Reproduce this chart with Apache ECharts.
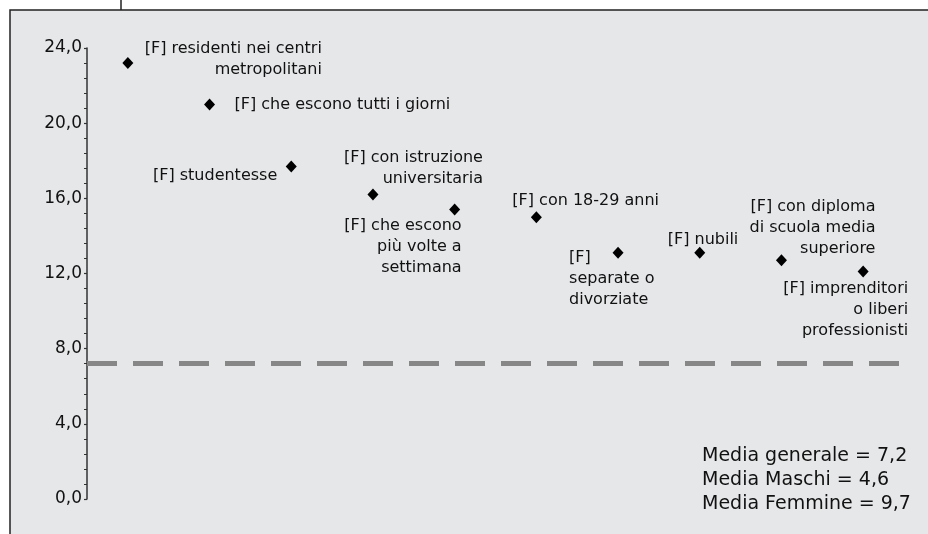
<!DOCTYPE html>
<html>
<head>
<meta charset="utf-8">
<script src="https://cdn.jsdelivr.net/npm/echarts@6/dist/echarts.min.js"></script>
<style>
  html, body { margin: 0; padding: 0; background: #fff; }
  #main { width: 928px; height: 534px; }
</style>
</head>
<body>
<div id="main"></div>
<script>
const chart = echarts.init(document.getElementById('main'));

// Groups (women) and their values
const categories = [
  '[F] residenti nei centri\nmetropolitani',
  '[F] che escono tutti i giorni',
  '[F] studentesse',
  '[F] con istruzione\nuniversitaria',
  '[F] che escono\npiù volte a\nsettimana',
  '[F] con 18-29 anni',
  '[F]\nseparate o\ndivorziate',
  '[F] nubili',
  '[F] con diploma\ndi scuola media\nsuperiore',
  '[F] imprenditori\no liberi\nprofessionisti'
];
const values = [23.2, 21.0, 17.7, 16.2, 15.4, 15.0, 13.1, 13.1, 12.7, 12.1];

// Average line and notes
const mediaGenerale = 7.2;
const notes = ['Media generale = 7,2', 'Media Maschi = 4,6', 'Media Femmine = 9,7'];

// Y axis ticks
const yTicks = [0, 4, 8, 12, 16, 20, 24];

// where each label sits around its point
const labelPlacement = [
  { align: 'right', verticalAlign: 'top', offset: [194, -25] },
  { align: 'left', verticalAlign: 'middle', offset: [25, 0] },
  { align: 'right', verticalAlign: 'middle', offset: [-14, 9] },
  { align: 'right', verticalAlign: 'top', offset: [110, -47] },
  { align: 'right', verticalAlign: 'top', offset: [7, 6] },
  { align: 'left', verticalAlign: 'middle', offset: [-24, -16] },
  { align: 'left', verticalAlign: 'top', offset: [-49, -5] },
  { align: 'left', verticalAlign: 'middle', offset: [-32, -13] },
  { align: 'right', verticalAlign: 'top', offset: [94, -64] },
  { align: 'right', verticalAlign: 'top', offset: [45, 7] }
];

const fmt = v => v.toFixed(1).replace('.', ',');

const options = {
  backgroundColor: '#fff',
  textStyle: { fontFamily: 'DejaVu Sans' },
  graphic: [
    { type: 'rect', z: -10, shape: { x: 10, y: 10, width: 930, height: 530 },
      style: { fill: '#e6e7e9', stroke: '#222', lineWidth: 1.5 } },
    { type: 'line', shape: { x1: 121, y1: 0, x2: 121, y2: 10 },
      style: { stroke: '#222', lineWidth: 1.5 } },
    { type: 'text', left: 702, top: 444,
      style: { text: notes.join('\n'), fontSize: 19, lineHeight: 24,
               fill: '#111', fontFamily: 'DejaVu Sans' } }
  ],
  grid: { left: 87, top: 48, bottom: 35, right: 24, containLabel: false },
  xAxis: {
    type: 'category',
    data: categories,
    show: false,
    boundaryGap: true
  },
  yAxis: {
    type: 'value',
    min: yTicks[0],
    max: yTicks[yTicks.length - 1],
    interval: 4,
    splitLine: { show: false },
    axisLine: { show: true, lineStyle: { color: '#333', width: 1.5 } },
    axisTick: { show: true, length: 3, lineStyle: { color: '#333', width: 1.2 } },
    minorTick: { show: true, splitNumber: 5, length: 3, lineStyle: { color: '#333', width: 1 } },
    axisLabel: { formatter: fmt, fontSize: 17, color: '#111', margin: 5 }
  },
  series: [{
    type: 'scatter',
    symbol: 'diamond',
    symbolSize: [11, 12],
    itemStyle: { color: '#000', opacity: 1 },
    data: values.map((v, i) => ({
      value: v,
      label: Object.assign({}, labelPlacement[i])
    })),
    label: {
      show: true,
      position: 'inside',
      formatter: p => categories[p.dataIndex],
      fontSize: 16,
      lineHeight: 21,
      color: '#111',
      fontFamily: 'DejaVu Sans'
    },
    emphasis: { disabled: true },
    markLine: {
      silent: true,
      symbol: 'none',
      label: { show: false },
      lineStyle: { color: '#878787', width: 5, type: [30, 16], cap: 'butt', opacity: 1 },
      data: [{ yAxis: mediaGenerale }]
    }
  }]
};

chart.setOption(options);
</script>
</body>
</html>
